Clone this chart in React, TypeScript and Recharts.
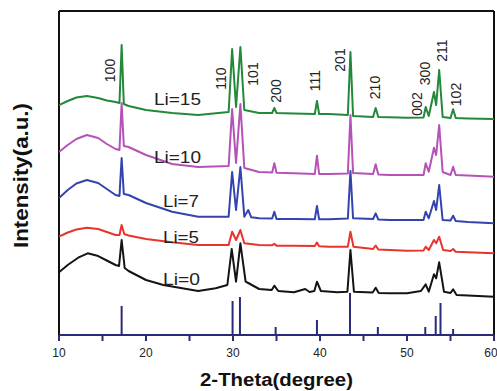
import React from "react";
import { LineChart, Line, XAxis, YAxis, ReferenceLine } from "recharts";

// 2-theta (deg) vs intensity (arbitrary units, stacked offsets)
const li15: [number, number][] = [
  [10, 230], [11, 234], [12, 237.5], [13.2, 239], [14.5, 237], [15.5, 234.5], [16.5, 233], [16.95, 232],
  [17.2, 290], [17.45, 231], [18, 229], [20, 225], [23, 222], [26, 220], [29.5, 223], [29.9, 286],
  [30.35, 228], [30.85, 288], [31.3, 225], [33, 222], [34.5, 222], [34.75, 227], [35, 222], [37, 221.5],
  [39.4, 221], [39.65, 234], [39.9, 221], [41, 221], [43.2, 220], [43.5, 283], [43.8, 219], [46.1, 218],
  [46.4, 227], [46.7, 218], [48, 217.7], [50, 217.3], [51.9, 217.5], [52.15, 228], [52.5, 219],
  [53.1, 243], [53.35, 230], [53.7, 265], [54.1, 218], [55, 217], [55.3, 225.7], [55.6, 217],
  [57, 216.5], [60, 216],
];

const li10: [number, number][] = [
  [10, 183], [11, 190], [12, 196], [13.2, 200], [14.5, 197], [15.5, 191], [16.5, 186], [16.95, 185],
  [17.2, 232], [17.45, 189], [18, 188], [20, 180], [23, 171], [26, 168], [29.5, 169], [29.9, 226],
  [30.35, 172], [30.85, 231], [31.3, 167], [33, 163], [34.5, 162.5], [34.75, 171.7], [35, 162.3],
  [37, 161.7], [39.4, 161], [39.65, 179.3], [39.9, 161], [41, 161], [43.2, 161.5], [43.5, 220],
  [43.8, 162], [46.1, 161], [46.4, 170.7], [46.7, 160.5], [48, 160], [50, 160], [51.9, 160],
  [52.15, 171.7], [52.5, 163.3], [53.1, 187.3], [53.35, 180], [53.7, 210], [54.1, 163], [55, 160],
  [55.3, 168.3], [55.6, 160], [57, 159.5], [60, 158.3],
];

const li7: [number, number][] = [
  [10, 137], [11, 145], [12, 151.5], [13.2, 155], [14.5, 152], [15.5, 146], [16.5, 140], [16.95, 139],
  [17.2, 177], [17.45, 141], [18, 140], [20, 132], [23, 123.3], [26, 118.3], [29.5, 118.3], [29.9, 163],
  [30.35, 125], [30.85, 168], [31.3, 118.3], [31.75, 125], [32.1, 117.7], [33, 116.7], [34.5, 116.5],
  [34.75, 123.3], [35, 116], [37, 116], [39.4, 115.7], [39.65, 129], [39.9, 115.7], [41, 115.7],
  [43.2, 116.5], [43.5, 164], [43.8, 116.7], [46.1, 116], [46.4, 121.7], [46.7, 115.5], [48, 115],
  [50, 115], [51.9, 115], [52.15, 123.3], [52.5, 116.7], [53.1, 134], [53.35, 125], [53.7, 150],
  [54.1, 115], [55, 114.5], [55.3, 119.3], [55.6, 114], [57, 113], [60, 111.7],
];

const li5: [number, number][] = [
  [10, 98.3], [11, 102.5], [12, 105.5], [13.2, 107.3], [14.5, 106], [15.5, 103], [16.5, 100], [16.95, 100],
  [17.2, 110], [17.5, 101], [18, 99.5], [20, 96], [23, 92.7], [26, 90], [29.5, 90], [29.9, 103.3],
  [30.35, 95], [30.85, 105], [31.3, 91.7], [33, 90], [34.5, 89.7], [34.75, 91.3], [35, 89.3], [37, 89.3],
  [39.4, 89], [39.65, 92.5], [39.9, 88.7], [41, 88.3], [43.2, 88.3], [43.5, 103.3], [43.85, 88.3],
  [46.1, 86], [46.4, 89.5], [46.7, 85.5], [48, 85], [50, 84.3], [51.9, 84.5], [52.15, 88.3], [52.5, 85],
  [53.1, 95], [53.35, 91.7], [53.7, 98.3], [54.15, 85], [55, 84], [55.3, 86], [55.6, 83.3], [57, 82.7],
  [60, 81.7],
];

const li0: [number, number][] = [
  [10, 62.7], [11, 70], [12.2, 77.3], [13.3, 81.7], [14.4, 79.3], [15.6, 74], [16.5, 70], [16.9, 69],
  [17.2, 95], [17.55, 67], [18, 64], [20, 55], [22, 50], [26, 44], [28, 46.7], [29.35, 50], [29.85, 86],
  [30.35, 53.3], [30.85, 91.7], [31.45, 53.3], [31.75, 52], [33, 46], [34.45, 45], [34.75, 49.3],
  [35.2, 44], [37, 42.7], [38.3, 46], [38.8, 43], [39.35, 44], [39.65, 53.3], [40.1, 44], [42, 42.7],
  [43.15, 43.3], [43.5, 85], [43.9, 43.3], [46.05, 42.5], [46.4, 47.3], [46.75, 42], [48, 41.7], [50, 41.7],
  [51.6, 44], [52.15, 50.7], [52.5, 43.3], [53.1, 60.7], [53.35, 56.7], [53.7, 72.7], [54.25, 43.3],
  [55, 42], [55.3, 45.7], [55.7, 40], [57, 39.5], [60, 38.3],
];

// reference pattern sticks
const stickPos = [17.2, 29.95, 30.8, 34.9, 39.65, 43.45, 46.65, 52.1, 53.3, 53.85, 55.3];
const stickHeight = [29, 34, 38, 8, 15, 42, 8, 8, 19, 32, 6];

const xTicks = [10, 15, 20, 25, 30, 35, 40, 45, 50, 55, 60];
const yDomain: [number, number] = [0, 324];

const peakLabels = ["100", "110", "101", "200", "111", "201", "210", "002", "300", "211", "102"];
const peakLabelPos: [number, number][] = [
  [110, 70.5], [221, 78.5], [252.5, 74], [276, 91], [315, 80.5], [339.5, 60], [374.5, 87.5],
  [416.5, 104], [424.5, 73.5], [442, 50.5], [455.5, 94.5],
];

const seriesNames = ["Li=15", "Li=10", "Li=7", "Li=5", "Li=0"];
const seriesLabelPos: [number, number, number][] = [
  [154, 105, 47], [154, 163, 47], [163, 207, 36], [163, 243, 36], [163, 285, 37],
];

const series = [
  { pts: li0, color: "#141414" },
  { pts: li5, color: "#e8342c" },
  { pts: li7, color: "#3443ad" },
  { pts: li10, color: "#b552b8" },
  { pts: li15, color: "#23883a" },
];

const toData = (pts: [number, number][]) => pts.map(([x, y]) => ({ x, y }));

export default function App() {
  const W = 497;
  const H = 391;
  return (
    <div style={{ position: "absolute", left: 0, top: 0, width: W, height: H, background: "#fff" }}>
      <LineChart width={W} height={H} margin={{ top: 11, right: 3, bottom: 26, left: 59 }}>
        <XAxis
          xAxisId="b"
          dataKey="x"
          type="number"
          domain={[10, 60]}
          ticks={xTicks}
          allowDataOverflow
          height={30}
          stroke="#2b2a78"
          strokeWidth={2}
          tickSize={6}
          tickMargin={7}
          tickFormatter={(v: number) => (v % 10 === 0 ? String(v) : "")}
          tick={{ fill: "#222", fontSize: 12, fontFamily: "Liberation Sans, Arial, sans-serif" }}
        />
        <YAxis yAxisId="l" type="number" domain={yDomain} allowDataOverflow hide />
        {/* frame: top, left, right */}
        <ReferenceLine xAxisId="b" yAxisId="l" y={yDomain[1]} stroke="#111" strokeWidth={2} ifOverflow="visible" />
        <ReferenceLine xAxisId="b" yAxisId="l" x={10} stroke="#111" strokeWidth={2} ifOverflow="visible" />
        <ReferenceLine xAxisId="b" yAxisId="l" x={60} stroke="#111" strokeWidth={2} ifOverflow="visible" />
        {stickPos.map((p, i) => (
          <ReferenceLine
            key={"s" + i}
            xAxisId="b"
            yAxisId="l"
            segment={[{ x: p, y: 0 }, { x: p, y: stickHeight[i] }]}
            stroke="#2b2a78"
            strokeWidth={2}
            ifOverflow="visible"
          />
        ))}
        {series.map((s, i) => (
          <Line
            key={"l" + i}
            xAxisId="b"
            yAxisId="l"
            data={toData(s.pts)}
            dataKey="y"
            type="linear"
            stroke={s.color}
            strokeWidth={2}
            strokeLinejoin="round"
            dot={false}
            activeDot={false}
            isAnimationActive={false}
          />
        ))}
      </LineChart>
      <svg
        width={W}
        height={H}
        style={{ position: "absolute", left: 0, top: 0, pointerEvents: "none" }}
        fontFamily="Liberation Sans, Arial, sans-serif"
      >
        {peakLabels.map((t, i) => (
          <text
            key={"p" + i}
            x={peakLabelPos[i][0]}
            y={peakLabelPos[i][1]}
            transform={`rotate(-90 ${peakLabelPos[i][0]} ${peakLabelPos[i][1]})`}
            textAnchor="middle"
            dominantBaseline="central"
            fontSize={14}
            fill="#222"
          >
            {t}
          </text>
        ))}
        {seriesNames.map((t, i) => (
          <text
            key={"n" + i}
            x={seriesLabelPos[i][0]}
            y={seriesLabelPos[i][1]}
            fontSize={16}
            fill="#222"
            textLength={seriesLabelPos[i][2]}
            lengthAdjust="spacingAndGlyphs"
          >
            {t}
          </text>
        ))}
        <text
          x={28}
          y={175.5}
          transform="rotate(-90 28 175.5)"
          textAnchor="middle"
          fontSize={20}
          fontWeight="bold"
          fill="#111"
          textLength={145}
          lengthAdjust="spacingAndGlyphs"
        >
          Intensity(a.u.)
        </text>
        <text
          x={276.5}
          y={386}
          textAnchor="middle"
          fontSize={18}
          fontWeight="bold"
          fill="#111"
          textLength={153}
          lengthAdjust="spacingAndGlyphs"
        >
          2-Theta(degree)
        </text>
      </svg>
    </div>
  );
}
